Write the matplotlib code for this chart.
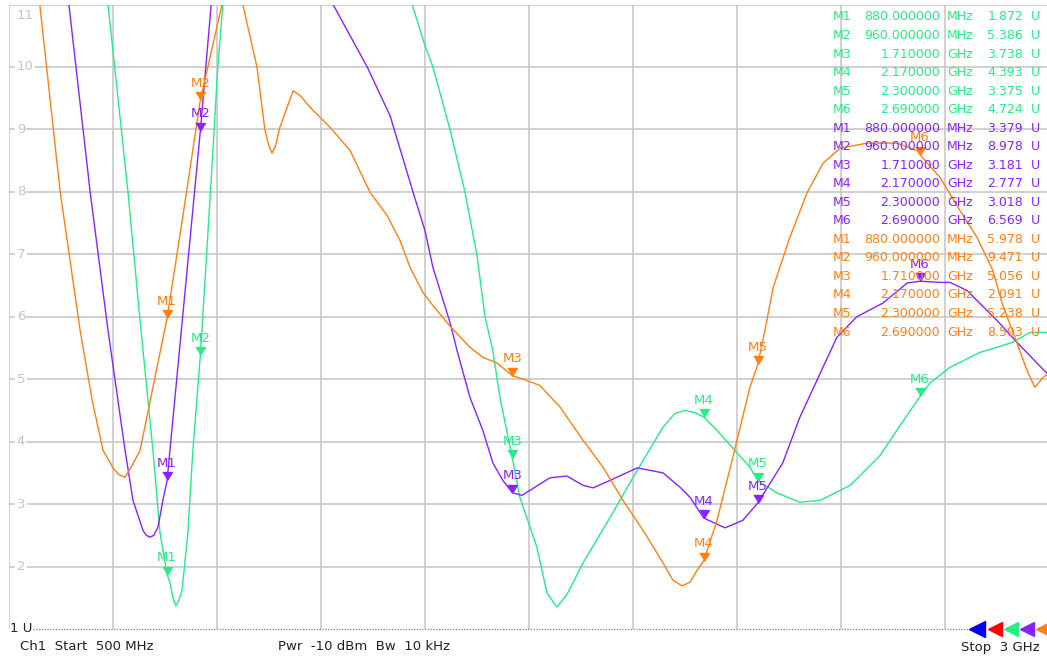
import matplotlib
matplotlib.use('Agg')
import matplotlib.pyplot as plt
import numpy as np

# marker readout (MHz, U)
marker_names = ['M1', 'M2', 'M3', 'M4', 'M5', 'M6']
marker_freqs = [880, 960, 1710, 2170, 2300, 2690]
green_mk = [1.872, 5.386, 3.738, 4.393, 3.375, 4.724]
purple_mk = [3.379, 8.978, 3.181, 2.777, 3.018, 6.569]
orange_mk = [5.978, 9.471, 5.056, 2.091, 5.238, 8.593]

# traces (MHz, U); values > 11 are off the top of the grid
green_f = [738, 786, 815, 846, 863, 880, 887, 894, 901, 908, 916, 930, 942, 960, 983, 1002, 1014, 1030,
           1450, 1469, 1500, 1519, 1560, 1596, 1625, 1644, 1663, 1680, 1710, 1728, 1769, 1793,
           1817, 1841, 1880, 1945, 2010, 2072, 2100, 2125, 2150, 2170, 2202, 2281, 2300, 2346,
           2401, 2450, 2522, 2594, 2642, 2690, 2714, 2762, 2834, 2913, 2954, 3000]
green_u = [11.0, 8.0, 5.94, 3.86, 2.54, 1.872, 1.74, 1.5, 1.37, 1.45, 1.62, 2.54, 3.86, 5.386, 7.86, 10.0, 11.0, 12.0,
           12.0, 11.0, 10.34, 10.0, 9.0, 8.0, 6.98, 6.01, 5.46, 4.71, 3.738, 3.11, 2.31, 1.58,
           1.35, 1.55, 2.06, 2.79, 3.54, 4.23, 4.45, 4.50, 4.46, 4.393, 4.18, 3.59, 3.375, 3.18,
           3.03, 3.06, 3.30, 3.78, 4.26, 4.724, 4.94, 5.19, 5.43, 5.59, 5.75, 5.75]

purple_f = [644, 695, 738, 779, 798, 822, 830, 839, 848, 858, 870, 880, 960, 986, 1000, 1240, 1279, 1361,
            1416, 1471, 1500, 1519, 1560, 1577, 1608, 1639, 1663, 1687, 1710, 1733, 1800, 1841,
            1880, 1904, 1945, 2010, 2041, 2072, 2113, 2137, 2170, 2221, 2264, 2300, 2360, 2401,
            2442, 2490, 2538, 2601, 2659, 2690, 2738, 2762, 2803, 2875, 2923, 3000]
purple_u = [11.0, 8.0, 5.78, 3.86, 3.06, 2.58, 2.5, 2.47, 2.5, 2.63, 3.06, 3.379, 8.978, 11.0, 12.0, 11.5, 11.0, 10.0,
            9.22, 8.0, 7.38, 6.79, 5.91, 5.46, 4.71, 4.18, 3.66, 3.38, 3.181, 3.14, 3.42, 3.45,
            3.30, 3.26, 3.38, 3.58, 3.54, 3.50, 3.27, 3.11, 2.777, 2.62, 2.74, 3.018, 3.66, 4.39,
            4.98, 5.67, 6.00, 6.22, 6.54, 6.569, 6.55, 6.55, 6.42, 5.94, 5.59, 5.06]

orange_f = [574, 623, 671, 700, 726, 750, 764, 779, 796, 815, 880, 920, 960, 1012, 1037, 1062, 1096, 1115,
            1124, 1132, 1140, 1151, 1183, 1200, 1224, 1248, 1272, 1320, 1368, 1409, 1440, 1464, 1495, 1519,
            1560, 1608, 1639, 1673, 1710, 1740, 1776, 1825, 1880, 1928, 1976, 2024, 2072, 2096,
            2118, 2137, 2154, 2170, 2202, 2240, 2281, 2300, 2317, 2337, 2377, 2418, 2457, 2498,
            2563, 2635, 2683, 2690, 2738, 2786, 2827, 2865, 2887, 2923, 2947, 2966, 2986, 3000]
orange_u = [11.0, 8.0, 5.78, 4.66, 3.86, 3.58, 3.47, 3.43, 3.62, 3.86, 5.978, 7.7, 9.471, 11.0, 11.6, 11.0, 10.0, 9.0,
            8.75, 8.62, 8.72, 9.03, 9.62, 9.54, 9.35, 9.19, 9.03, 8.66, 7.99, 7.62, 7.22, 6.79, 6.39, 6.18,
            5.85, 5.51, 5.35, 5.26, 5.056, 4.99, 4.90, 4.55, 4.02, 3.59, 3.06, 2.58, 2.06, 1.78,
            1.69, 1.75, 1.94, 2.091, 2.74, 3.75, 4.87, 5.238, 5.78, 6.47, 7.27, 7.98, 8.46, 8.70,
            8.78, 8.78, 8.66, 8.593, 8.23, 7.70, 7.27, 6.74, 6.22, 5.58, 5.14, 4.87, 5.03, 5.10]

GREEN = '#22ee88'
PURPLE = '#8822ff'
ORANGE = '#ff8010'
GRID = '#c8c8c8'

W, H = 1047, 661
fig = plt.figure(figsize=(W / 100, H / 100), dpi=100)
ax = fig.add_axes([9 / W, 32 / H, 1040 / W, 624.5 / H])
ax.set_xlim(500, 3000)
ax.set_ylim(1, 11)
for s in ax.spines.values():
    s.set_visible(False)
ax.set_xticks(np.arange(500, 3001, 250))
ax.set_yticks(np.arange(2, 12, 1))
ax.tick_params(length=0, labelbottom=False, labelleft=False)
ax.grid(True, color=GRID, lw=1.2, zorder=0)

# dotted reference line at the bottom
ax.plot([0.023, 0.922], [0, 0], transform=ax.transAxes, ls=(0, (1, 1)), color='#909090',
        lw=1.0, clip_on=False)

tri = [(-0.6, 1.0), (0.6, 1.0), (0, 0)]
traces = [(green_f, green_u, green_mk, GREEN),
          (purple_f, purple_u, purple_mk, PURPLE),
          (orange_f, orange_u, orange_mk, ORANGE)]
for f, u, mk, c in traces:
    ax.plot(f, u, color=c, lw=1.0, zorder=3)
    ax.plot(marker_freqs, mk, ls='none', marker=tri, ms=11.5, color=c, zorder=4)
    for name, mf, mv in zip(marker_names, marker_freqs, mk):
        ax.annotate(name, (mf, mv), xytext=(0, 7.5), textcoords='offset points',
                    ha='center', va='bottom', color=c, fontsize=9.5, zorder=5)

# y labels inside the grid
for v in range(2, 12):
    off = -3 if v == 11 else 0
    ax.annotate(str(v), (0.0075, v), xycoords=ax.get_yaxis_transform(), xytext=(0, off),
                textcoords='offset points', ha='left', va='top' if v == 11 else 'center',
                color='#c4c4c4', fontsize=9.5,
                bbox=dict(boxstyle='square,pad=0.1', fc='white', ec='none'), zorder=2)

# marker table
def px(x, y):
    return x / W, 1 - y / H

row = 0
for mk, c in [(green_mk, GREEN), (purple_mk, PURPLE), (orange_mk, ORANGE)]:
    for name, mf, mv in zip(marker_names, marker_freqs, mk):
        y = 17 + row * 18.53
        if mf < 1000:
            fs, unit = '%.6f' % mf, 'MHz'
        else:
            fs, unit = '%.6f' % (mf / 1000), 'GHz'
        fig.text(*px(833, y), name, color=c, fontsize=9, ha='left', va='center', zorder=6)
        fig.text(*px(940, y), fs, color=c, fontsize=9, ha='right', va='center')
        fig.text(*px(947, y), unit, color=c, fontsize=9, ha='left', va='center')
        fig.text(*px(1023, y), '%.3f' % mv, color=c, fontsize=9, ha='right', va='center')
        fig.text(*px(1031, y), 'U', color=c, fontsize=9, ha='left', va='center')
        row += 1

# footer
fig.text(*px(10, 629), '1 U', fontsize=9.5, color='#202020', ha='left', va='center')
fig.text(*px(20, 647), 'Ch1  Start  500 MHz', fontsize=9.5, color='#202020', ha='left', va='center')
fig.text(*px(278, 647), 'Pwr  -10 dBm  Bw  10 kHz', fontsize=9.5, color='#202020', ha='left', va='center')
fig.text(*px(961, 647), 'Stop  3 GHz', fontsize=9.5, color='#202020', ha='left', va='center')

for xp, c, ms in [(977, '#0000ff', 12), (995, '#ff0000', 9.5), (1011, GREEN, 9.5),
                  (1027, PURPLE, 9.5), (1043, ORANGE, 9.5)]:
    ax.plot([(xp - 9) / 1040], [0], transform=ax.transAxes, marker='<', ms=ms, color=c,
            ls='none', clip_on=False)

fig.savefig('out.png', dpi=100)
